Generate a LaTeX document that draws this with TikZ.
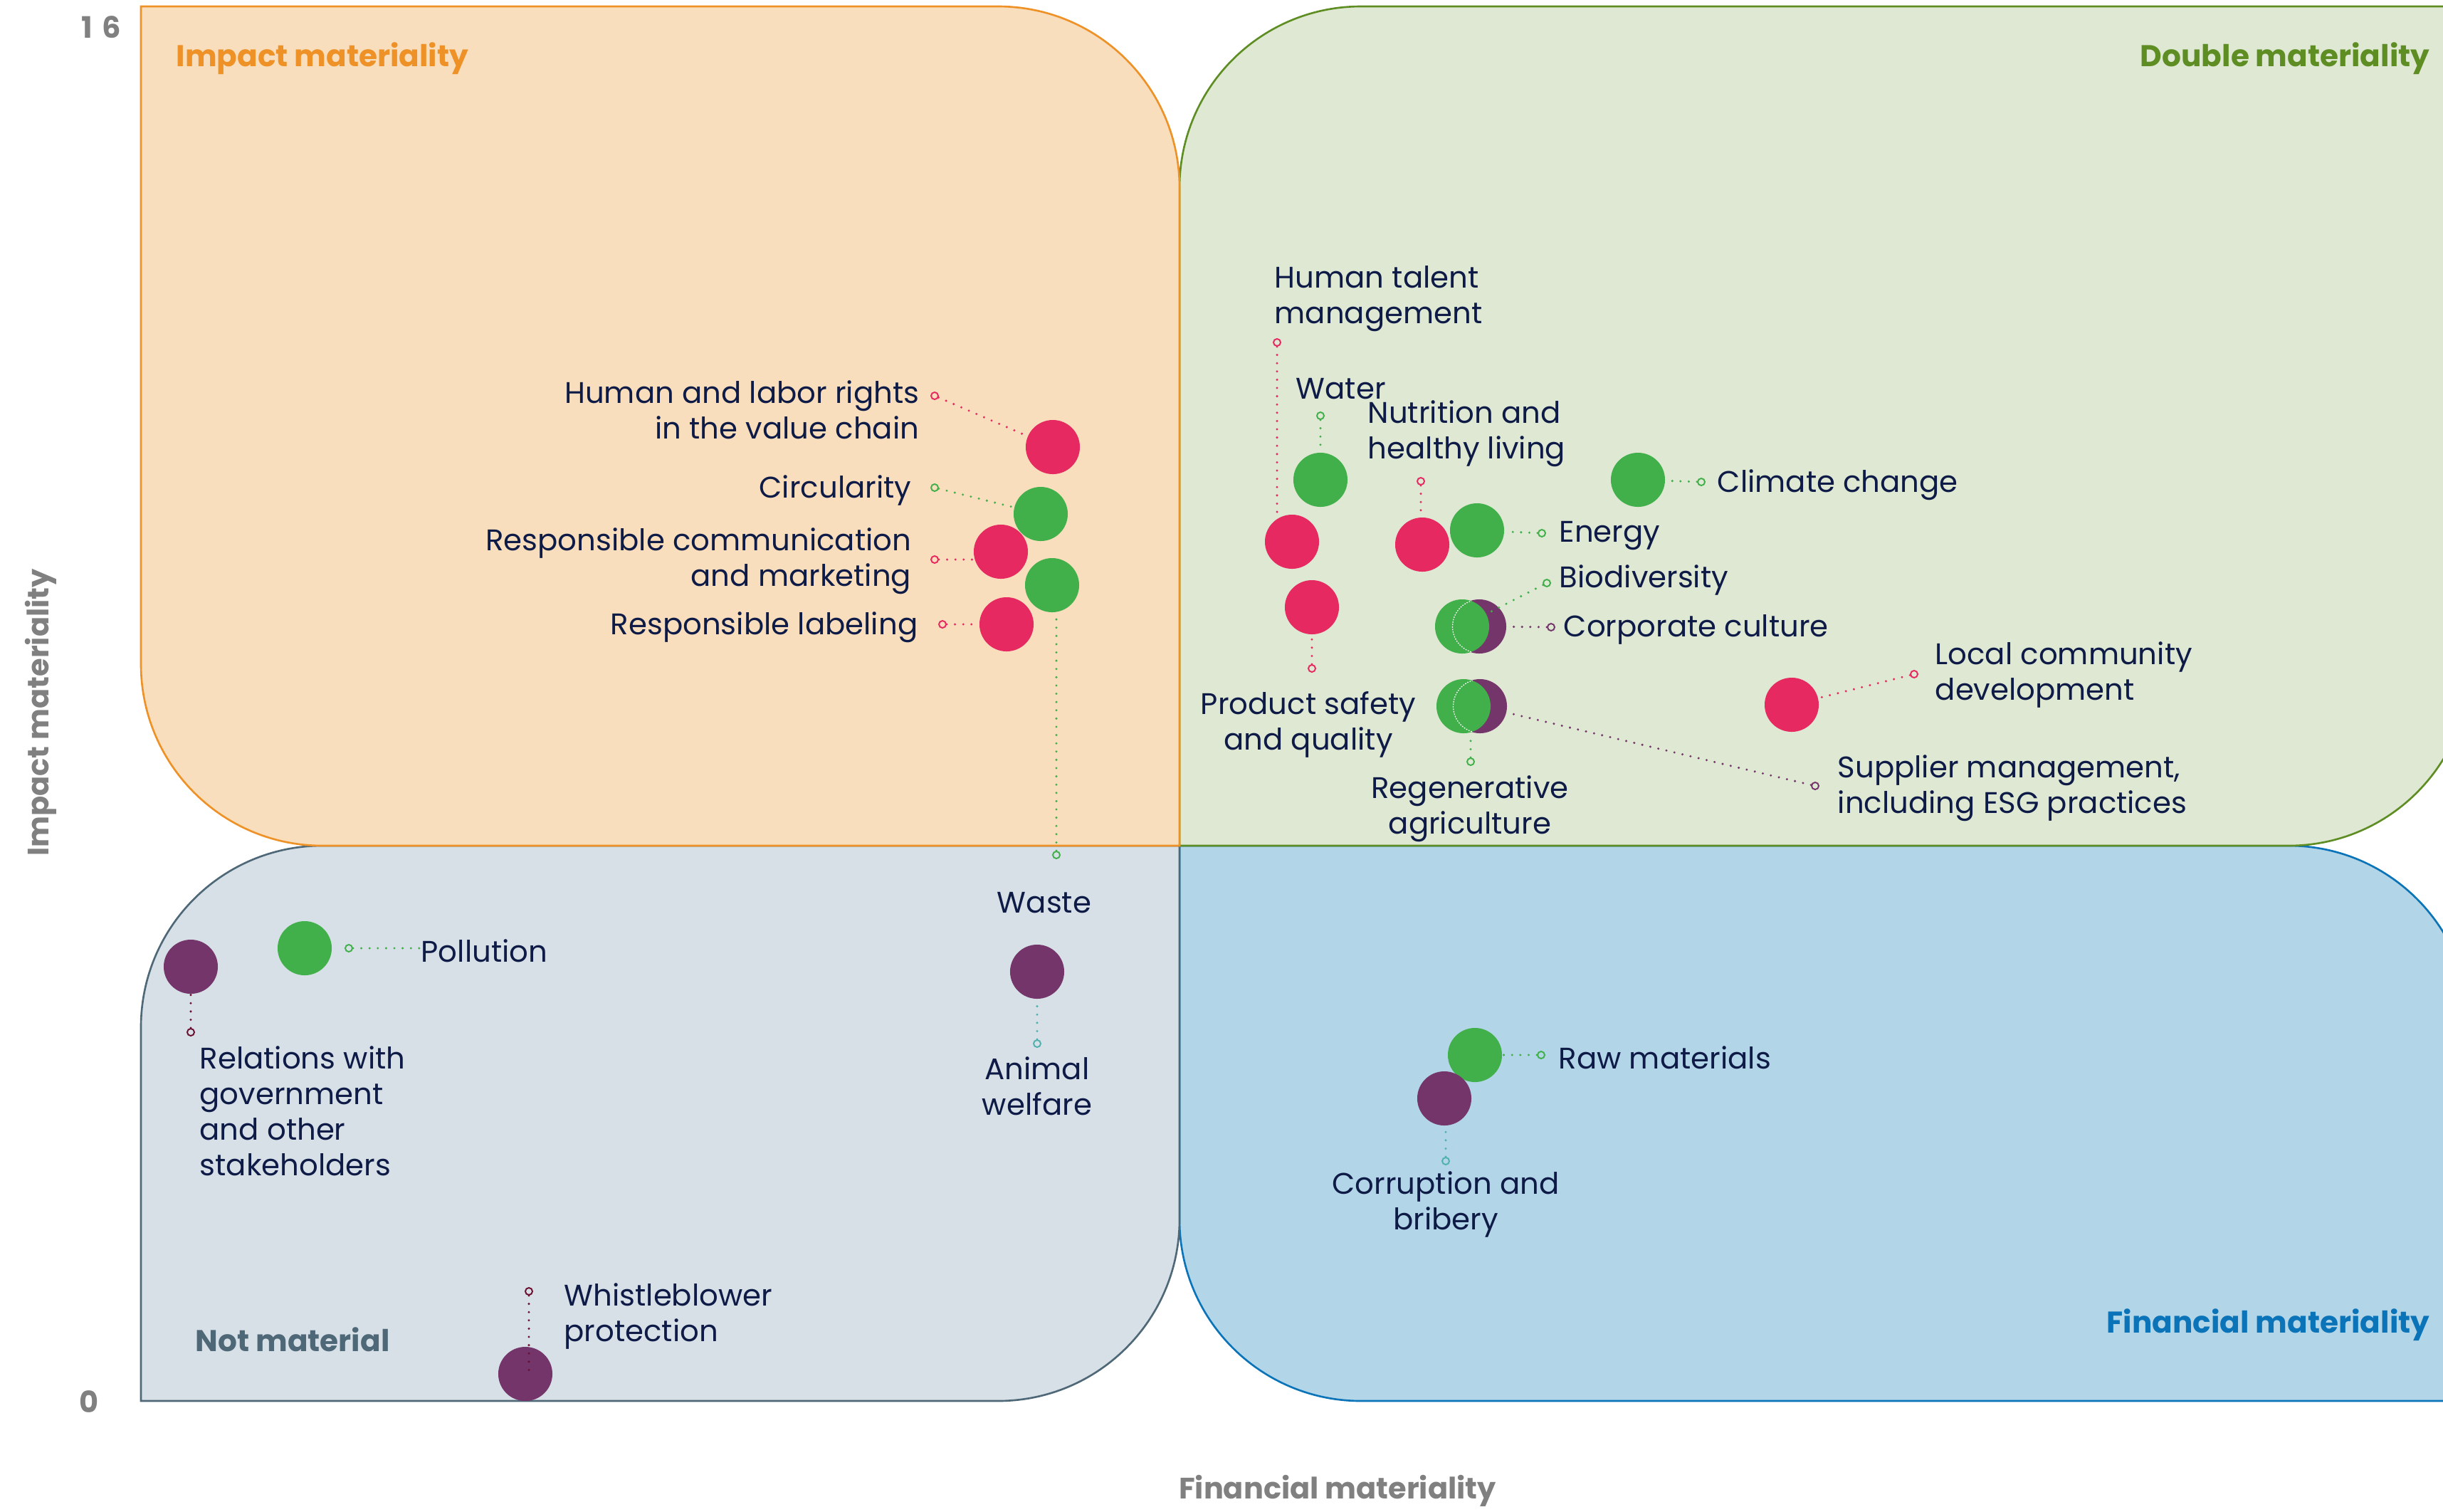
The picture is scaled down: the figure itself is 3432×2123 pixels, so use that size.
\documentclass[tikz,border=0pt]{standalone}
\usepackage{fontspec}
\setmainfont{Poppins}
\usetikzlibrary{calc}
\definecolor{pinkD}{HTML}{E62A61}
\definecolor{greenD}{HTML}{41B04B}
\definecolor{purpD}{HTML}{74356A}
\definecolor{maroon}{HTML}{6A0F30}
\definecolor{tealD}{HTML}{4FB1AD}
\definecolor{navy}{HTML}{0E1B47}
\definecolor{axisgrey}{HTML}{808080}
\definecolor{orFill}{HTML}{F8DEBC}
\definecolor{orLine}{HTML}{EE9127}
\definecolor{grFill}{HTML}{DFE8D3}
\definecolor{grLine}{HTML}{5E8E23}
\definecolor{gyFill}{HTML}{D8E0E7}
\definecolor{gyLine}{HTML}{4F6878}
\definecolor{blFill}{HTML}{B3D5E8}
\definecolor{blLine}{HTML}{0B74B8}
\tikzset{
  dot/.style={circle, fill=#1, minimum size=0.76cm, inner sep=0pt},
  sc/.style={circle, draw=#1, line width=0.55pt, minimum size=0.1cm, inner sep=0pt},
  lead/.style={draw=#1, line width=0.95pt, dash pattern=on 0pt off 3.3pt, line cap=round},
  lbl/.style={text=navy, inner sep=0pt, yshift=-1.1pt, font=\fontsize{11.9}{14.2}\selectfont},
  qtitle/.style={inner sep=0pt, yshift=-1.4pt, font=\bfseries\fontsize{12}{15}\selectfont},
  axlbl/.style={inner sep=0pt, text=axisgrey, font=\bfseries\fontsize{11.8}{15}\selectfont},
  quad/.style={line width=0.75pt}
}
\begin{document}
\begin{tikzpicture}[x=0.01cm, y=-0.01cm]
\useasboundingbox (0,0) rectangle (3432,2123);
\clip (0,0) rectangle (3432,2123);
\def\R{255}
% quadrants
\draw[quad, draw=blLine, fill=blFill] (1657,1188) -- (3470-\R,1188) arc[start angle=-90, end angle=0, radius=\R] -- (3470,1968) -- (1657+\R,1968) arc[start angle=90, end angle=180, radius=\R] -- cycle;
\draw[quad, draw=gyLine, fill=gyFill] (198,1968) -- (198,1188+\R) arc[start angle=180, end angle=270, radius=\R] -- (1657,1188) -- (1657,1968-\R) arc[start angle=0, end angle=90, radius=\R] -- cycle;
\draw[quad, draw=grLine, fill=grFill] (1657,1188) -- (1657,9+\R) arc[start angle=180, end angle=270, radius=\R] -- (3470,9) -- (3470,1188-\R) arc[start angle=0, end angle=90, radius=\R] -- cycle;
\draw[quad, draw=orLine, fill=orFill] (198,9) -- (1657-\R,9) arc[start angle=-90, end angle=0, radius=\R] -- (1657,1188) -- (198+\R,1188) arc[start angle=90, end angle=180, radius=\R] -- cycle;

% quadrant titles
\node[qtitle, text=orLine, anchor=west] (tim) at (247,77) {Impact materiality};
\node[qtitle, text=grLine, anchor=east] (tdm) at (3414,77) {Double materiality};
\node[qtitle, text=blLine, anchor=east] (tfm) at (3414,1856) {Financial materiality};
\node[qtitle, text=gyLine, anchor=west] (tnm) at (274,1877) {Not material};

% axes
\node[axlbl, anchor=east] (y16) at (171,38) {1\kern4pt 6};
\node[axlbl] (y0) at (125,1969) {0};
\node[axlbl, rotate=90] (yax) at (57,1001) {Impact materiality};
\node[axlbl] (xax) at (1879,2094) {Financial materiality};

% dots
\node[dot=pinkD] (hlr) at (1479,628) {};
\node[dot=greenD] (circ) at (1462,722) {};
\node[dot=pinkD] (rcm) at (1406,775) {};
\node[dot=greenD] (waste) at (1478,822) {};
\node[dot=pinkD] (rl) at (1414,877) {};
\node[dot=pinkD] (htm) at (1815,761) {};
\node[dot=greenD] (water) at (1855,674) {};
\node[dot=pinkD] (nhl) at (1998,765) {};
\node[dot=greenD] (energy) at (2075,745) {};
\node[dot=greenD] (climate) at (2301,674) {};
\node[dot=pinkD] (psq) at (1843,853) {};
\node[dot=purpD] (corp) at (2078,880) {};
\node[dot=greenD] (biodiv) at (2054,880) {};
\node[dot=purpD] (supp) at (2079,992) {};
\node[dot=greenD] (regen) at (2056,992) {};
\node[dot=pinkD] (lcd) at (2517,990) {};
\node[dot=greenD] (raw) at (2072,1482) {};
\node[dot=purpD] (corr) at (2029,1543) {};
\node[dot=purpD] (rel) at (268,1358) {};
\node[dot=greenD] (poll) at (428,1332) {};
\node[dot=purpD] (animal) at (1457,1365) {};
\node[dot=purpD] (whistle) at (738,1930) {};
% hidden outlines of the purple dots behind the green ones
\begin{scope}
\clip (biodiv.center) circle[radius=38];
\draw[white, line width=0.35pt, dash pattern=on 0.5pt off 0.5pt] (corp.center) circle[radius=37.5];
\end{scope}
\begin{scope}
\clip (regen.center) circle[radius=38];
\draw[white, line width=0.35pt, dash pattern=on 0.5pt off 0.5pt] (supp.center) circle[radius=37.5];
\end{scope}

% leader ends
\node[sc=pinkD] (s1) at (1313,556) {};
\node[sc=greenD] (s2) at (1313,685) {};
\node[sc=pinkD] (s3) at (1313,786) {};
\node[sc=pinkD] (s4) at (1324,877) {};
\node[sc=greenD] (s5) at (1484,1201) {};
\node[sc=pinkD] (s6) at (1794,481) {};
\node[sc=greenD] (s7) at (1855,584) {};
\node[sc=pinkD] (s8) at (1996,676) {};
\node[sc=greenD] (s9) at (2166,749) {};
\node[sc=greenD] (s10) at (2390,677) {};
\node[sc=greenD] (s11) at (2173,819) {};
\node[sc=purpD] (s12) at (2179,881) {};
\node[sc=pinkD] (s13) at (1843,939) {};
\node[sc=greenD] (s14) at (2066,1070) {};
\node[sc=purpD] (s15) at (2550,1104) {};
\node[sc=pinkD] (s16) at (2689,947) {};
\node[sc=maroon] (s17) at (268,1450) {};
\node[sc=greenD] (s18) at (490,1332) {};
\node[sc=tealD] (s19) at (1457,1466) {};
\node[sc=maroon] (s20) at (743,1814) {};
\node[sc=greenD] (s21) at (2165,1482) {};
\node[sc=tealD] (s22) at (2031,1631) {};

% labels
\node[lbl, anchor=east, align=right] (l1) at (1292,572) {Human and labor rights\\in the value chain};
\node[lbl, anchor=east] (l2) at (1281,685) {Circularity};
\node[lbl, anchor=east, align=right] (l3) at (1281,784) {Responsible communication\\and marketing};
\node[lbl, anchor=east] (l4) at (1290,877) {Responsible labeling};
\node[lbl] (l5) at (1467,1264) {Waste};
\node[lbl, anchor=west, align=left] (l6) at (1790,416) {Human talent\\management};
\node[lbl, anchor=west] (l7) at (1820,542) {Water};
\node[lbl, anchor=west, align=left] (l8) at (1921,605) {Nutrition and\\healthy living};
\node[lbl, anchor=west] (l9) at (2190,749) {Energy};
\node[lbl, anchor=west] (l10) at (2412,677) {Climate change};
\node[lbl, anchor=west] (l11) at (2190,811) {Biodiversity};
\node[lbl, anchor=west] (l12) at (2196,881) {Corporate culture};
\node[lbl, align=center] (l13) at (1838,1014) {Product safety\\and quality};
\node[lbl, align=center] (l14) at (2065,1132) {Regenerative\\agriculture};
\node[lbl, anchor=west, align=left] (l15) at (2581,1103) {Supplier management,\\including ESG practices};
\node[lbl, anchor=west, align=left] (l16) at (2718,944) {Local community\\development};
\node[lbl, anchor=west, align=left] (l17) at (280,1557) {Relations with\\government\\and other\\stakeholders};
\node[lbl, anchor=west] (l18) at (591,1332) {Pollution};
\node[lbl, align=center] (l19) at (1457,1522) {Animal\\welfare};
\node[lbl, anchor=west, align=left] (l20) at (792,1845) {Whistleblower\\protection};
\node[lbl, anchor=west] (l21) at (2189,1482) {Raw materials};
\node[lbl, align=center] (l22) at (2031,1688) {Corruption and\\bribery};

% leaders
\draw[lead=pinkD] (s1) -- (hlr);
\draw[lead=greenD] (s2) -- (circ);
\draw[lead=pinkD] (s3) -- (s3 -| rcm.west);
\draw[lead=pinkD] (s4) -- (rl);
\draw[lead=greenD] (s5) -- (s5 |- waste.south);
\draw[lead=pinkD] (s6) -- (s6 |- htm.north);
\draw[lead=greenD] (s7) -- (water);
\draw[lead=pinkD] (s8) -- (s8 |- nhl.north);
\draw[lead=greenD] (s9) -- (energy);
\draw[lead=greenD] (s10) -- (climate);
\draw[lead=greenD] (s11) -- (biodiv);
\draw[lead=purpD] (s12) -- (corp);
\draw[lead=pinkD] (s13) -- (psq);
\draw[lead=greenD] (s14) -- (s14 |- regen.south);
\draw[lead=purpD] (s15) -- (supp);
\draw[lead=pinkD] (s16) -- (lcd);
\draw[lead=maroon] (s17) -- (rel);
\draw[lead=greenD] (s18) -- (s18 -| l18.west);
\draw[lead=tealD] (s19) -- (animal);
\draw[lead=maroon] (s20) -- (s20 |- whistle.center);
\draw[lead=greenD] (s21) -- (raw);
\draw[lead=tealD] (s22) -- (s22 |- corr.south);
\end{tikzpicture}
\end{document}
